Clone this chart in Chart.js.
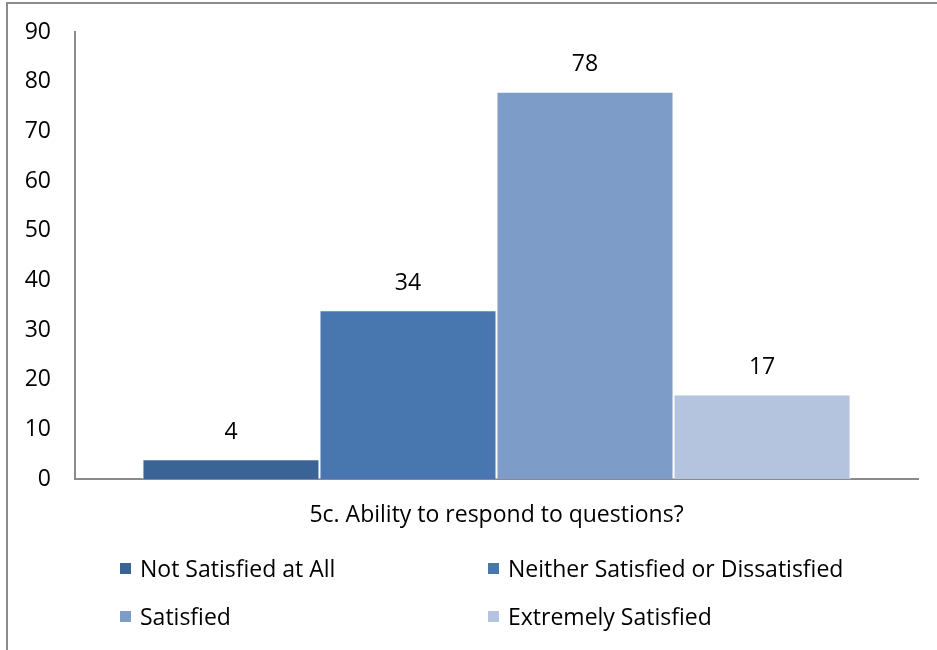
<!DOCTYPE html>
<html>
<head>
<meta charset="utf-8">
<script src="https://cdn.jsdelivr.net/npm/chart.js@4"></script>
<style>
  html, body { margin: 0; padding: 0; background: #fff; overflow: hidden; }
  #wrap { position: relative; width: 937px; height: 650px; }
  #frame {
    position: absolute; left: 6px; top: 2px; width: 1000px; height: 700px;
    border-left: 2px solid #8c8c8c; border-top: 2px solid #8c8c8c;
  }
  #chart { position: absolute; left: 0; top: 0; }
  #legend {
    position: absolute; left: 120px; top: 552px; width: 780px;
    display: grid; grid-template-columns: 368px 400px; row-gap: 16px;
    font-family: "Open Sans", "Noto Sans", sans-serif; font-size: 23px; color: #000;
  }
  .item { display: flex; align-items: center; height: 32px; }
  .box { width: 11px; height: 11px; margin-right: 9px; }
</style>
</head>
<body>
<div id="wrap">
  <div id="frame"></div>
  <canvas id="chart" width="937" height="650"></canvas>
  <div id="legend"></div>
</div>
<script>
// categorías y series
const categorias = ['5c. Ability to respond to questions?'];
const series = ['Not Satisfied at All', 'Neither Satisfied or Dissatisfied', 'Satisfied', 'Extremely Satisfied'];
const valores = [4, 34, 78, 17];
const colores = ['#3b6496', '#4877af', '#7e9cc8', '#b5c4de'];
const yTicks = [0, 10, 20, 30, 40, 50, 60, 70, 80, 90];

const FONT = '"Open Sans", "Noto Sans", sans-serif';
const AXIS = '#8a8a8a';

// etiquetas de valor encima de cada barra
const valueLabels = {
    id: 'valueLabels',
    afterDatasetsDraw(chart) {
        const ctx = chart.ctx;
        ctx.save();
        ctx.font = '23px ' + FONT;
        ctx.fillStyle = '#000';
        ctx.textAlign = 'center';
        ctx.textBaseline = 'middle';
        chart.data.datasets.forEach((ds, i) => {
            chart.getDatasetMeta(i).data.forEach((bar, j) => {
                ctx.fillText(ds.data[j], bar.x, bar.y - 27);
            });
        });
        ctx.restore();
    }
};

new Chart(document.getElementById('chart'), {
    type: 'bar',
    data: {
        labels: categorias,
        datasets: series.map((s, i) => ({
            label: s,
            data: [valores[i]],
            backgroundColor: colores[i],
            borderColor: '#ffffff',
            borderWidth: 1,
            categoryPercentage: 0.84,
            barPercentage: 1.0
        }))
    },
    options: {
        responsive: false,
        animation: false,
        layout: { padding: { left: 0, right: 19, top: 10, bottom: 0 } },
        plugins: {
            legend: { display: false },
            tooltip: { enabled: false }
        },
        scales: {
            x: {
                grid: { display: false, drawTicks: false },
                border: { color: AXIS, width: 2 },
                ticks: { color: '#000', font: { family: FONT, size: 23 }, padding: 23 },
                afterFit(scale) { scale.height = 171; }
            },
            y: {
                min: 0,
                max: 90,
                afterBuildTicks(scale) { scale.ticks = yTicks.map(v => ({ value: v })); },
                grid: { display: false, drawTicks: false },
                border: { color: AXIS, width: 2 },
                // lineHeight reducido: el padding superior del eje depende de él
                ticks: { color: '#000', font: { family: FONT, size: 23, lineHeight: 0.7 }, padding: 24 },
                afterFit(scale) { scale.width = 75; }
            }
        }
    },
    plugins: [valueLabels]
});

// leyenda en dos columnas
const legend = document.getElementById('legend');
series.forEach((s, i) => {
    const item = document.createElement('div');
    item.className = 'item';
    item.innerHTML = '<span class="box" style="background:' + colores[i] + '"></span><span>' + s + '</span>';
    legend.appendChild(item);
});
</script>
</body>
</html>
